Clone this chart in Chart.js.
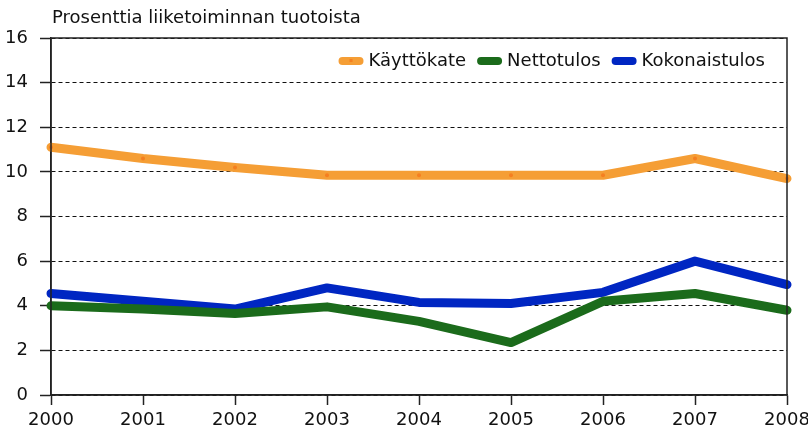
<!DOCTYPE html>
<html>
<head>
<meta charset="utf-8">
<script src="https://cdn.jsdelivr.net/npm/chart.js@4.4.1/dist/chart.umd.min.js"></script>
<style>
  html, body { margin: 0; padding: 0; background: #fff; }
  #wrap { width: 808px; height: 432px; }
</style>
</head>
<body>
<div id="wrap"><canvas id="chart" width="808" height="432"></canvas></div>
<script>
const years = ['2000', '2001', '2002', '2003', '2004', '2005', '2006', '2007', '2008'];
const kayttokate = [11.1, 10.6, 10.2, 9.85, 9.85, 9.85, 9.85, 10.6, 9.7];
const nettotulos = [4.0, 3.85, 3.65, 3.95, 3.3, 2.35, 4.2, 4.55, 3.8];
const kokonaistulos = [4.55, 4.2, 3.85, 4.8, 4.15, 4.1, 4.6, 6.0, 4.95];
const titleText = 'Prosenttia liiketoiminnan tuotoista';

const font = 'DejaVu Sans';

// frame, title and the legend inside the plot (top right)
const frame = {
    id: 'frame',
    afterDraw(chart) {
        const a = chart.chartArea, ctx = chart.ctx;
        ctx.save();
        ctx.strokeStyle = '#222';
        ctx.lineWidth = 1.5;
        ctx.strokeRect(a.left, a.top, a.right - a.left, a.bottom - a.top);
        ctx.fillStyle = '#111';
        ctx.font = '18px "' + font + '"';
        ctx.textBaseline = 'middle';
        ctx.fillText(titleText, a.left + 1, 18);

        // legend
        const sets = chart.data.datasets;
        let x = a.right - 22;
        const y = 61;
        for (let i = sets.length - 1; i >= 0; i--) {
            const ds = sets[i];
            const w = ctx.measureText(ds.label).width;
            x -= w;
            ctx.fillStyle = '#111';
            ctx.textAlign = 'left';
            ctx.fillText(ds.label, x, y);
            x -= 5 + 25;
            ctx.fillStyle = ds.borderColor;
            ctx.beginPath();
            ctx.roundRect(x, y - 4, 25, 8, 4);
            ctx.fill();
            if (ds.pointBackgroundColor) {
                ctx.fillStyle = ds.pointBackgroundColor;
                ctx.fillRect(x + 11, y - 2, 3, 3);
            }
            x -= 11;
        }
        ctx.restore();
    }
};

function line(label, data, color, dot) {
    return {
        label: label,
        data: data,
        borderColor: color,
        backgroundColor: color,
        borderWidth: 9,
        borderCapStyle: 'round',
        borderJoinStyle: 'round',
        tension: 0,
        pointRadius: dot ? 2 : 0,
        pointBackgroundColor: dot,
        pointBorderWidth: 0,
        clip: false
    };
}

new Chart(document.getElementById('chart'), {
    type: 'line',
    data: {
        labels: years,
        datasets: [
            line('Käyttökate', kayttokate, '#F59E35', '#F57F20'),
            line('Nettotulos', nettotulos, '#1B6B1B'),
            line('Kokonaistulos', kokonaistulos, '#0026C2')
        ]
    },
    options: {
        responsive: false,
        animation: false,
        layout: { padding: { top: 38, right: 21, left: 0, bottom: 0 } },
        plugins: {
            legend: { display: false },
            tooltip: { enabled: false }
        },
        scales: {
            x: {
                offset: false,
                grid: { drawOnChartArea: false, tickLength: 10, tickColor: '#222', tickWidth: 1.5 },
                border: { color: '#222', width: 1.5 },
                ticks: { color: '#111', font: { family: font, size: 18 }, padding: 5, maxRotation: 0, autoSkip: false },
                afterFit(s) { s.height = 37; s.paddingRight = 0; s.paddingLeft = 0; }
            },
            y: {
                min: 0,
                max: 16,
                ticks: { stepSize: 2, color: '#111', font: { family: font, size: 18 }, padding: 12 },
                grid: { color: '#111', lineWidth: 1, tickLength: 11, tickColor: '#222', tickWidth: 1.5, tickBorderDash: [] },
                border: { color: '#222', width: 1.5, dash: [4, 3] },
                afterFit(s) { s.width = 51; }
            }
        }
    },
    plugins: [frame]
});
</script>
</body>
</html>
